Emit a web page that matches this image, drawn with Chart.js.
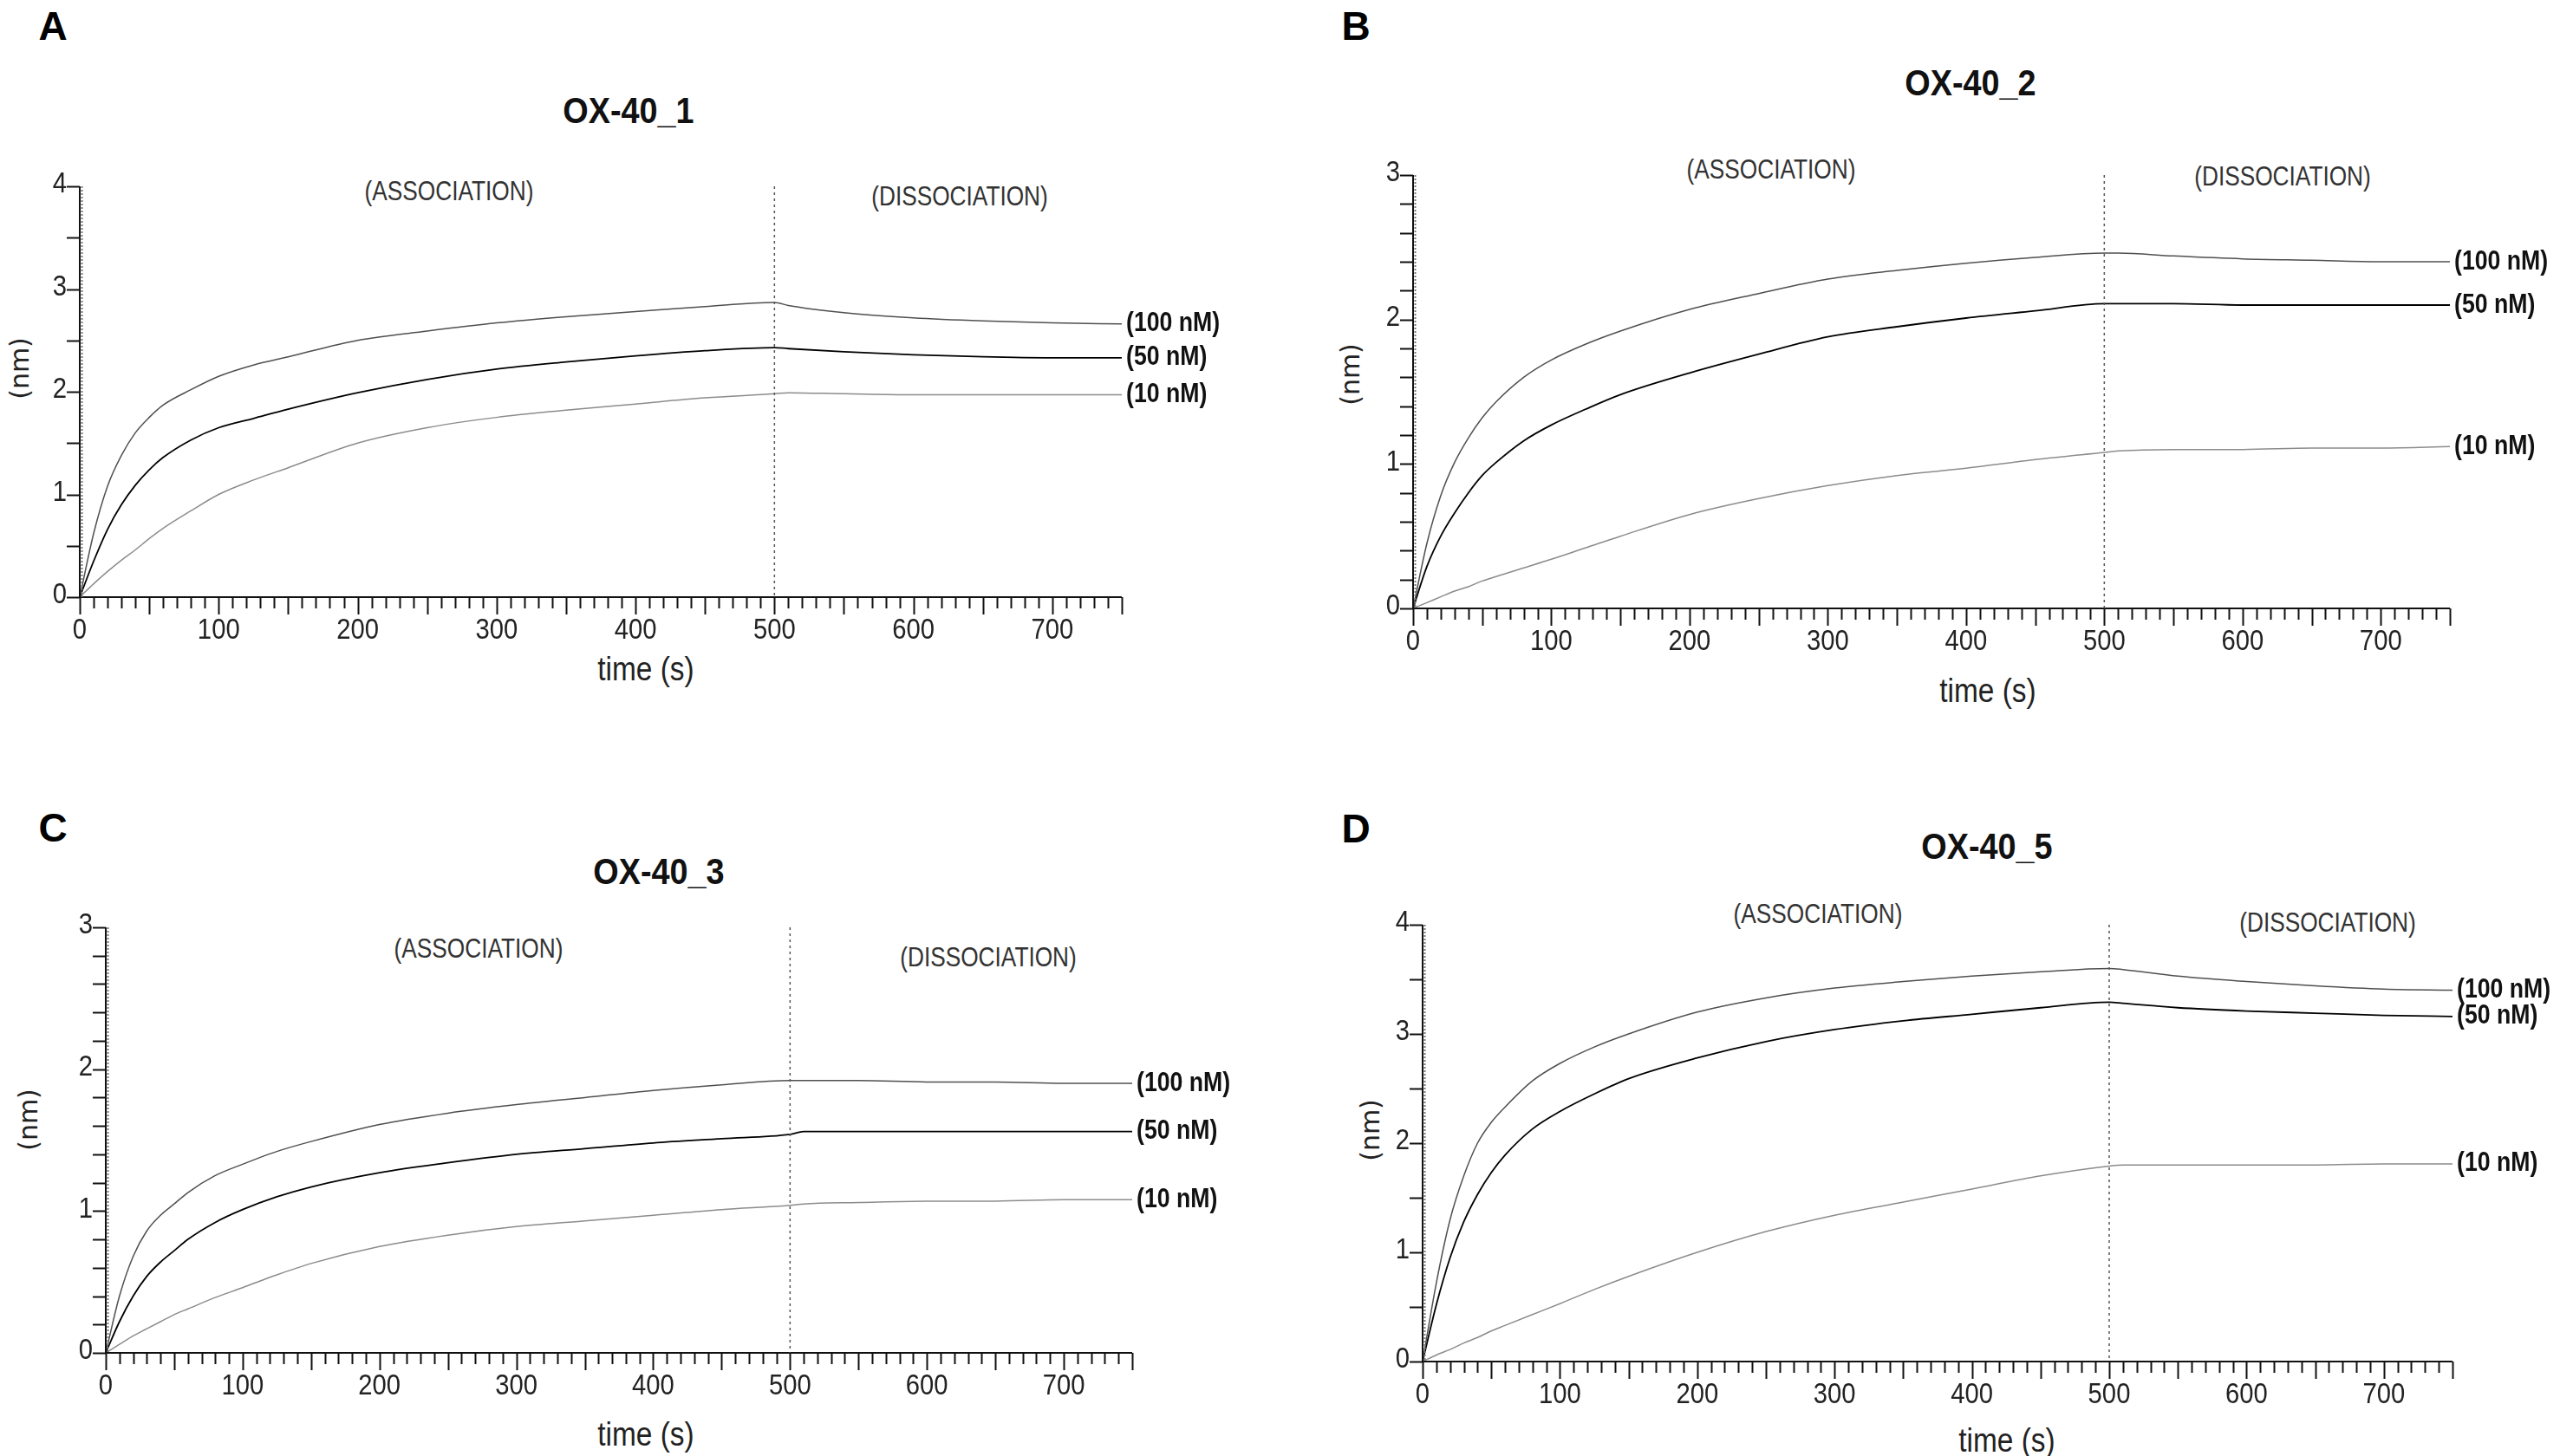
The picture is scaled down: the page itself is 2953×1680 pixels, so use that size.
<!DOCTYPE html>
<html>
<head>
<meta charset="utf-8">
<title>OX-40 binding kinetics</title>
<script src="https://cdn.jsdelivr.net/npm/chart.js@4.4.0/dist/chart.umd.min.js"></script>
<style>
body { margin:0; background:#fff; width:2953px; height:1680px; position:relative; overflow:hidden;
       font-family:'Liberation Sans Narrow','Liberation Sans',sans-serif; }
.t { position:absolute; transform:translate(-50%,-50%); white-space:nowrap; color:#222; }
.letter { font-family:'Liberation Sans',sans-serif; font-weight:bold; font-size:46px; color:#000; }
.title { font-weight:bold; font-size:42px; color:#111; transform:translate(-50%,-50%) scaleX(0.9); }
.phase { font-size:32px; color:#333; transform:translate(-50%,-50%) scaleX(0.82); }
.xlab { font-size:38px; color:#222; transform:translate(-50%,-50%) scaleX(0.88); }
.ylab { font-family:'DejaVu Sans',sans-serif; font-size:30px; transform:translate(-50%,-50%) rotate(-90deg); }
canvas { position:absolute; }
</style>
</head>
<body>

<div class="t letter" style="left:61px;top:30px">A</div>
<div class="t title" style="left:725px;top:128px">OX-40_1</div>
<div class="t phase" style="left:518px;top:220px">(ASSOCIATION)</div>
<div class="t phase" style="left:1107px;top:226px">(DISSOCIATION)</div>
<div class="t xlab" style="left:745px;top:772px">time (s)</div>
<div class="t ylab" style="left:22px;top:425px">(nm)</div>

<div class="t letter" style="left:1564px;top:30px">B</div>
<div class="t title" style="left:2273px;top:96px">OX-40_2</div>
<div class="t phase" style="left:2043px;top:195px">(ASSOCIATION)</div>
<div class="t phase" style="left:2633px;top:203px">(DISSOCIATION)</div>
<div class="t xlab" style="left:2293px;top:797px">time (s)</div>
<div class="t ylab" style="left:1557px;top:432px">(nm)</div>

<div class="t letter" style="left:61px;top:955px">C</div>
<div class="t title" style="left:760px;top:1006px">OX-40_3</div>
<div class="t phase" style="left:552px;top:1094px">(ASSOCIATION)</div>
<div class="t phase" style="left:1140px;top:1104px">(DISSOCIATION)</div>
<div class="t xlab" style="left:745px;top:1655px">time (s)</div>
<div class="t ylab" style="left:32px;top:1292px">(nm)</div>

<div class="t letter" style="left:1564px;top:956px">D</div>
<div class="t title" style="left:2292px;top:977px">OX-40_5</div>
<div class="t phase" style="left:2097px;top:1054px">(ASSOCIATION)</div>
<div class="t phase" style="left:2685px;top:1064px">(DISSOCIATION)</div>
<div class="t xlab" style="left:2315px;top:1662px">time (s)</div>
<div class="t ylab" style="left:1580px;top:1304px">(nm)</div>

<canvas id="chartA"></canvas>
<canvas id="chartB"></canvas>
<canvas id="chartC"></canvas>
<canvas id="chartD"></canvas>

<script>
// time points (s) shared by every sensorgram
const times = [0, 10, 20, 30, 40, 50, 60, 80, 100, 125, 150, 200, 250, 300, 350, 400, 450, 500, 510, 550, 600, 650, 700, 750];

// response (nm)
const ox1_100 = [0, 0.62, 1.08, 1.38, 1.60, 1.75, 1.87, 2.02, 2.15, 2.26, 2.34, 2.50, 2.59, 2.67, 2.73, 2.78, 2.83, 2.87, 2.84, 2.77, 2.72, 2.69, 2.67, 2.66];
const ox1_50  = [0, 0.35, 0.66, 0.90, 1.09, 1.24, 1.36, 1.53, 1.65, 1.74, 1.83, 1.99, 2.12, 2.22, 2.29, 2.35, 2.40, 2.43, 2.42, 2.39, 2.36, 2.34, 2.33, 2.33];
const ox1_10  = [0, 0.13, 0.25, 0.36, 0.46, 0.57, 0.67, 0.84, 1.00, 1.14, 1.26, 1.50, 1.65, 1.75, 1.82, 1.88, 1.94, 1.98, 1.99, 1.98, 1.97, 1.97, 1.97, 1.97];

const ox2_100 = [0, 0.45, 0.78, 1.01, 1.18, 1.32, 1.43, 1.60, 1.72, 1.83, 1.92, 2.07, 2.18, 2.28, 2.34, 2.39, 2.43, 2.46, 2.46, 2.44, 2.42, 2.41, 2.40, 2.40];
const ox2_50  = [0, 0.29, 0.50, 0.66, 0.80, 0.92, 1.01, 1.16, 1.27, 1.38, 1.48, 1.63, 1.76, 1.88, 1.95, 2.01, 2.06, 2.11, 2.11, 2.11, 2.10, 2.10, 2.10, 2.10];
const ox2_10  = [0, 0.04, 0.08, 0.12, 0.15, 0.19, 0.22, 0.28, 0.34, 0.42, 0.50, 0.65, 0.76, 0.85, 0.92, 0.97, 1.03, 1.08, 1.09, 1.10, 1.10, 1.11, 1.11, 1.12];

const ox3_100 = [0, 0.40, 0.68, 0.86, 0.97, 1.05, 1.13, 1.25, 1.33, 1.42, 1.49, 1.61, 1.69, 1.75, 1.80, 1.85, 1.89, 1.92, 1.92, 1.92, 1.91, 1.91, 1.90, 1.90];
const ox3_50  = [0, 0.22, 0.40, 0.54, 0.64, 0.72, 0.80, 0.92, 1.01, 1.10, 1.17, 1.27, 1.34, 1.40, 1.44, 1.48, 1.51, 1.54, 1.56, 1.56, 1.56, 1.56, 1.56, 1.56];
const ox3_10  = [0, 0.06, 0.12, 0.17, 0.22, 0.27, 0.31, 0.39, 0.46, 0.55, 0.63, 0.75, 0.83, 0.89, 0.93, 0.97, 1.01, 1.04, 1.05, 1.06, 1.07, 1.07, 1.08, 1.08];

const ox5_100 = [0, 0.72, 1.30, 1.70, 2.00, 2.19, 2.33, 2.57, 2.73, 2.88, 3.00, 3.20, 3.33, 3.42, 3.48, 3.53, 3.57, 3.60, 3.59, 3.53, 3.48, 3.44, 3.41, 3.40];
const ox5_50  = [0, 0.52, 0.95, 1.28, 1.53, 1.73, 1.89, 2.13, 2.29, 2.45, 2.59, 2.78, 2.93, 3.04, 3.12, 3.18, 3.24, 3.29, 3.28, 3.24, 3.21, 3.19, 3.17, 3.16];
const ox5_10  = [0, 0.06, 0.11, 0.17, 0.22, 0.28, 0.33, 0.43, 0.53, 0.66, 0.78, 1.00, 1.19, 1.34, 1.46, 1.58, 1.70, 1.79, 1.80, 1.80, 1.80, 1.80, 1.81, 1.81];

const concLabels = ['(100 nM)', '(50 nM)', '(10 nM)'];
const concColors = ['#505050', '#000000', '#8c8c8c'];
const xTickLabels = [0, 100, 200, 300, 400, 500, 600, 700];
const yTickLabels4 = [0, 1, 2, 3, 4];
const yTickLabels3 = [0, 1, 2, 3];
const injectionEnd = 500;

const FONT = "'Liberation Sans Narrow','Liberation Sans',sans-serif";

// narrow text, like the instrument software's condensed font
function narrowText(ctx, text, x, y, squeeze) {
    ctx.save();
    ctx.translate(x, y);
    ctx.scale(squeeze, 1);
    ctx.fillText(text, 0, 0);
    ctx.restore();
}

// draws axis lines, tick marks and labels, the end-of-association marker and curve labels
const sensorgramPlugin = {
    id: 'sensorgram',
    afterDraw(chart, args, opts) {
        const ctx = chart.ctx;
        const xs = chart.scales.x;
        const ys = chart.scales.y;
        const area = chart.chartArea;
        ctx.save();

        // x axis
        ctx.strokeStyle = '#111';
        ctx.lineWidth = 2;
        ctx.beginPath();
        ctx.moveTo(area.left, area.bottom);
        ctx.lineTo(area.right, area.bottom);
        ctx.stroke();
        xs.ticks.forEach(t => {
            const px = Math.round(xs.getPixelForValue(t.value)) + 0.5;
            const len = Math.round(t.value) % 50 === 0 ? 20 : 13;
            ctx.beginPath();
            ctx.moveTo(px, area.bottom);
            ctx.lineTo(px, area.bottom + len);
            ctx.stroke();
        });

        // y axis: solid line with dotted edge
        ctx.beginPath();
        ctx.moveTo(area.left, area.top);
        ctx.lineTo(area.left, area.bottom);
        ctx.stroke();
        ctx.strokeStyle = '#777';
        ctx.setLineDash([2, 2]);
        ctx.beginPath();
        ctx.moveTo(area.left + 2.5, area.top);
        ctx.lineTo(area.left + 2.5, area.bottom);
        ctx.stroke();
        ctx.setLineDash([]);
        ctx.strokeStyle = '#111';
        ys.ticks.forEach(t => {
            const py = Math.round(ys.getPixelForValue(t.value)) + 0.5;
            ctx.beginPath();
            ctx.moveTo(area.left - 15, py);
            ctx.lineTo(area.left, py);
            ctx.stroke();
        });

        // tick labels
        ctx.fillStyle = '#222';
        ctx.font = '34px ' + FONT;
        ctx.textAlign = 'center';
        ctx.textBaseline = 'top';
        xTickLabels.forEach(v => narrowText(ctx, String(v), xs.getPixelForValue(v), area.bottom + 22, 0.86));
        ctx.textAlign = 'right';
        ctx.textBaseline = 'middle';
        opts.yLabels.forEach(v => narrowText(ctx, String(v), area.left - 15, ys.getPixelForValue(v) - 2, 0.86));

        // end of association
        const vx = xs.getPixelForValue(injectionEnd);
        ctx.strokeStyle = '#555';
        ctx.lineWidth = 1.5;
        ctx.setLineDash([3, 4]);
        ctx.beginPath();
        ctx.moveTo(vx, area.top);
        ctx.lineTo(vx, area.bottom);
        ctx.stroke();
        ctx.setLineDash([]);

        // concentration labels at the end of each trace
        ctx.fillStyle = '#111';
        ctx.font = 'bold 31px ' + FONT;
        ctx.textAlign = 'left';
        ctx.textBaseline = 'middle';
        chart.data.datasets.forEach((ds, i) => {
            const pts = chart.getDatasetMeta(i).data;
            const last = pts[pts.length - 1];
            narrowText(ctx, ds.label, last.x + 5, last.y, 0.86);
        });
        ctx.restore();
    }
};

function makePanel(id, box, yMax, yStep, yLabels, series) {
    const padL = 20, padT = 30, padR = 170, padB = 20, yW = 50, xH = 50;
    const canvas = document.getElementById(id);
    const w = box.x1 - box.x0 + padL + yW + padR;
    const h = box.bottom - box.top + padT + xH + padB;
    canvas.width = w;
    canvas.height = h;
    canvas.style.width = w + 'px';
    canvas.style.height = h + 'px';
    canvas.style.left = (box.x0 - padL - yW) + 'px';
    canvas.style.top = (box.top - padT) + 'px';

    new Chart(canvas, {
        type: 'line',
        data: {
            datasets: series.map((vals, i) => ({
                label: concLabels[i],
                data: times.map((t, k) => ({ x: t, y: vals[k] })),
                borderColor: concColors[i],
                borderWidth: i === 1 ? 1.8 : 1.5,
                pointRadius: 0,
                fill: false,
                cubicInterpolationMode: 'monotone'
            }))
        },
        options: {
            responsive: false,
            animation: false,
            devicePixelRatio: 1,
            layout: { padding: { left: padL, top: padT, right: padR, bottom: padB } },
            plugins: {
                legend: { display: false },
                tooltip: { enabled: false },
                sensorgram: { yLabels: yLabels }
            },
            scales: {
                x: {
                    type: 'linear',
                    min: 0,
                    max: 750,
                    grid: { display: false, drawTicks: false },
                    border: { display: false },
                    afterFit(scale) { scale.height = xH; },
                    ticks: { display: false, stepSize: 10, maxTicksLimit: 1000, autoSkip: false }
                },
                y: {
                    min: 0,
                    max: yMax,
                    grid: { display: false, drawTicks: false },
                    border: { display: false },
                    afterFit(scale) { scale.width = yW; },
                    ticks: { display: false, stepSize: yStep, autoSkip: false }
                }
            }
        },
        plugins: [sensorgramPlugin]
    });
}

makePanel('chartA', { x0: 92, x1: 1294, top: 215, bottom: 689 }, 4, 0.5, yTickLabels4, [ox1_100, ox1_50, ox1_10]);
makePanel('chartB', { x0: 1630, x1: 2826, top: 202, bottom: 702 }, 3, 0.2, yTickLabels3, [ox2_100, ox2_50, ox2_10]);
makePanel('chartC', { x0: 122, x1: 1306, top: 1070, bottom: 1561 }, 3, 0.2, yTickLabels3, [ox3_100, ox3_50, ox3_10]);
makePanel('chartD', { x0: 1641, x1: 2829, top: 1067, bottom: 1571 }, 4, 0.5, yTickLabels4, [ox5_100, ox5_50, ox5_10]);
</script>
</body>
</html>
